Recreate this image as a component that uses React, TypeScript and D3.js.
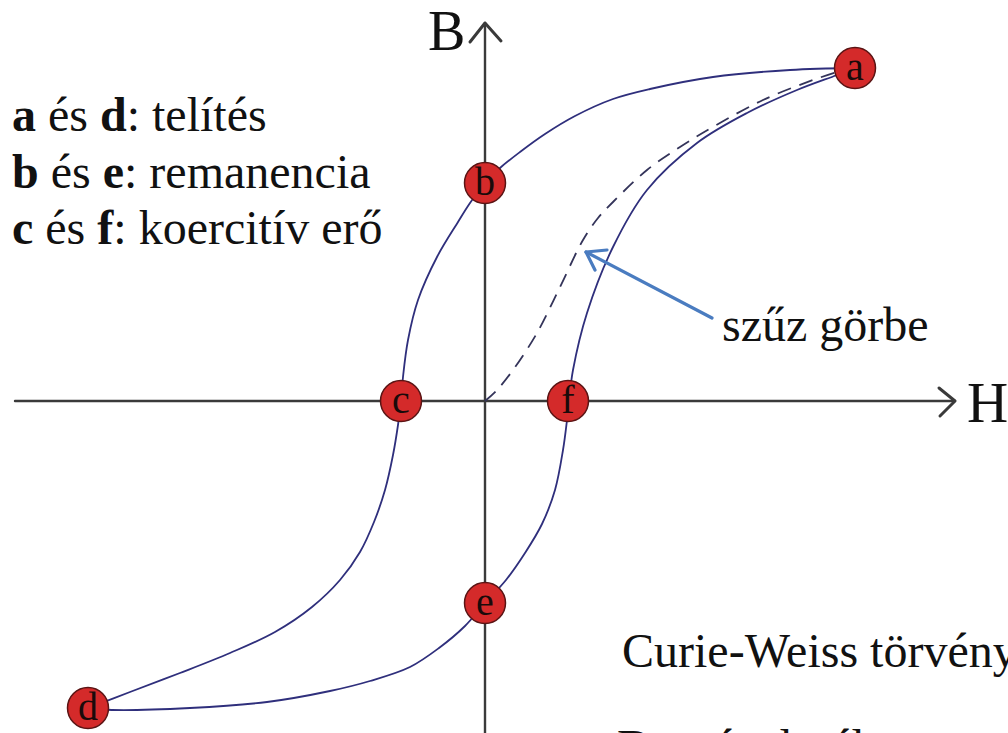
import React from "react";
import * as d3 from "d3";

// Coordinates in field units (H, B); 1 unit = 4 px, origin at axis crossing
const markerLabels = ["a", "b", "c", "d", "e", "f"];
const markerH = [92.5, 0, -21, -99.25, 0, 20.75];
const markerB = [83.25, 54.5, 0, -76.75, -50.5, 0];

// descending branch a -> b -> c -> d
const descH = [92.5, 76.25, 57, 41.25, 32, 22.5, 15, 8.75, 3.75, 0, -3.75, -6.75, -12, -16.75, -19.25, -20.5, -21, -21.75, -23, -25, -27.75, -31.25, -36.25, -43.25, -52.5, -63.75, -76.25, -88.75, -99.25];
const descB = [83.25, 82.75, 81, 78, 75.5, 71.25, 66.75, 62.25, 58.25, 54.5, 49.5, 44.75, 36, 25.25, 15.25, 6, 0, -6, -13.5, -22.25, -30.25, -37.75, -44.75, -51.5, -57.75, -63, -68, -72.75, -76.75];

// ascending branch d -> e -> f -> a
const ascH = [-99.25, -93.25, -73.75, -54.5, -38.75, -28.75, -18.75, -11.5, -5, 0, 5.25, 10, 14.25, 17.5, 19.5, 20.5, 21, 22, 25.5, 32, 40.5, 53, 65.5, 78, 88, 92.5];
const ascB = [-76.75, -77.25, -76.75, -75.25, -72.5, -70, -66.5, -61.75, -56.25, -50.5, -44.75, -38, -30.75, -22.25, -12.25, -4.75, 0, 7.75, 22, 38.5, 52.75, 64.5, 72, 77.75, 81.5, 83.25];

// virgin curve (dashed)
const virginH = [0, 3, 7, 13, 18.75, 24.5, 28.25, 32, 40.5, 48.75, 57, 69.5, 82, 88.75];
const virginB = [0, 2.75, 7.75, 17, 28.5, 40.25, 45.75, 49.75, 57.75, 63.5, 68.5, 75.25, 80.25, 82.5];

const legendBold = [["a", "d"], ["b", "e"], ["c", "f"]];
const legendText = ["telítés", "remanencia", "koercitív erő"];

const W = 1008;
const H = 733;
const x = d3.scaleLinear().domain([-100, 100]).range([85, 885]);
const y = d3.scaleLinear().domain([-100, 100]).range([801, 1]);

const line = d3
  .line<[number, number]>()
  .x((d) => x(d[0]))
  .y((d) => y(d[1]))
  .curve(d3.curveCatmullRom.alpha(0.5));

const zip = (a: number[], b: number[]) => a.map((v, i) => [v, b[i]] as [number, number]);

const serif = "'Liberation Serif', 'Times New Roman', serif";
const curveColor = "#2f2f7c";
const axisColor = "#3a3a3a";

export default function App() {
  const x0 = x(0);
  const y0 = y(0);
  const xLeft = x(-117.5);
  const xRight = x(117.5);
  const yTop = y(94.5);
  const yBottom = H;

  return (
    <svg
      width={W}
      height={H}
      style={{ position: "fixed", left: 0, top: 0, background: "#fff" }}
      fontFamily={serif}
    >
      <rect x={0} y={0} width={W} height={H} fill="#fff" />
      {/* axes */}
      <g stroke={axisColor} strokeWidth={2.4} fill="none" strokeLinecap="round" strokeLinejoin="round">
        <line x1={xLeft} y1={y0} x2={xRight} y2={y0} />
        <line x1={x0} y1={yBottom} x2={x0} y2={yTop} />
        <path d={`M${xRight - 16},${y0 - 13} L${xRight},${y0} L${xRight - 15},${y0 + 15}`} strokeWidth={3} />
        <path d={`M${x0 - 15},${yTop + 19} L${x0},${yTop} L${x0 + 16},${yTop + 18}`} strokeWidth={3} />
      </g>
      <text x={x0 - 57} y={yTop + 27} fontSize={56} fill="#111">B</text>
      <text x={xRight + 12} y={y0 + 21} fontSize={57} fill="#111">H</text>

      {/* virgin curve */}
      <path
        d={line(zip(virginH, virginB)) || ""}
        fill="none"
        stroke="#34345a"
        strokeWidth={1.8}
        strokeDasharray="14 9"
      />
      {/* hysteresis loop */}
      <path d={line(zip(descH, descB)) || ""} fill="none" stroke={curveColor} strokeWidth={1.8} />
      <path d={line(zip(ascH, ascB)) || ""} fill="none" stroke={curveColor} strokeWidth={1.8} />

      {/* markers */}
      {markerLabels.map((lab, i) => (
        <g key={lab}>
          <circle cx={x(markerH[i])} cy={y(markerB[i])} r={20.5} fill="#d42a2a" stroke="#5a1414" strokeWidth={1.5} />
          <text
            x={x(markerH[i])}
            y={y(markerB[i]) + 12}
            textAnchor="middle"
            fontSize={40}
            fill="#1a0a0a"
          >
            {lab}
          </text>
        </g>
      ))}

      {/* arrow to virgin curve */}
      <g stroke="#4a7cc0" strokeWidth={3.2} fill="none" strokeLinecap="round" strokeLinejoin="round">
        <line x1={x(56.75)} y1={y(20.75)} x2={x(25.25)} y2={y(37.25)} />
        <path d={`M${x(30.5)},${y(37.75)} L${x(25.25)},${y(37.25)} L${x(27.5)},${y(32.75)}`} />
      </g>
      <text x={722} y={341} fontSize={48} fill="#111">szűz görbe</text>

      {/* legend */}
      {legendBold.map((pair, i) => (
        <text key={i} x={12} y={131 + i * 56.5} fontSize={48} fill="#111">
          <tspan fontWeight="bold">{pair[0]}</tspan>
          <tspan> és </tspan>
          <tspan fontWeight="bold">{pair[1]}</tspan>
          <tspan>: {legendText[i]}</tspan>
        </text>
      ))}

      <text x={622} y={667} fontSize={48} fill="#111">Curie-Weiss törvény</text>
      <text x={617} y={763} fontSize={48} fill="#111">Doménelmélet</text>
    </svg>
  );
}
